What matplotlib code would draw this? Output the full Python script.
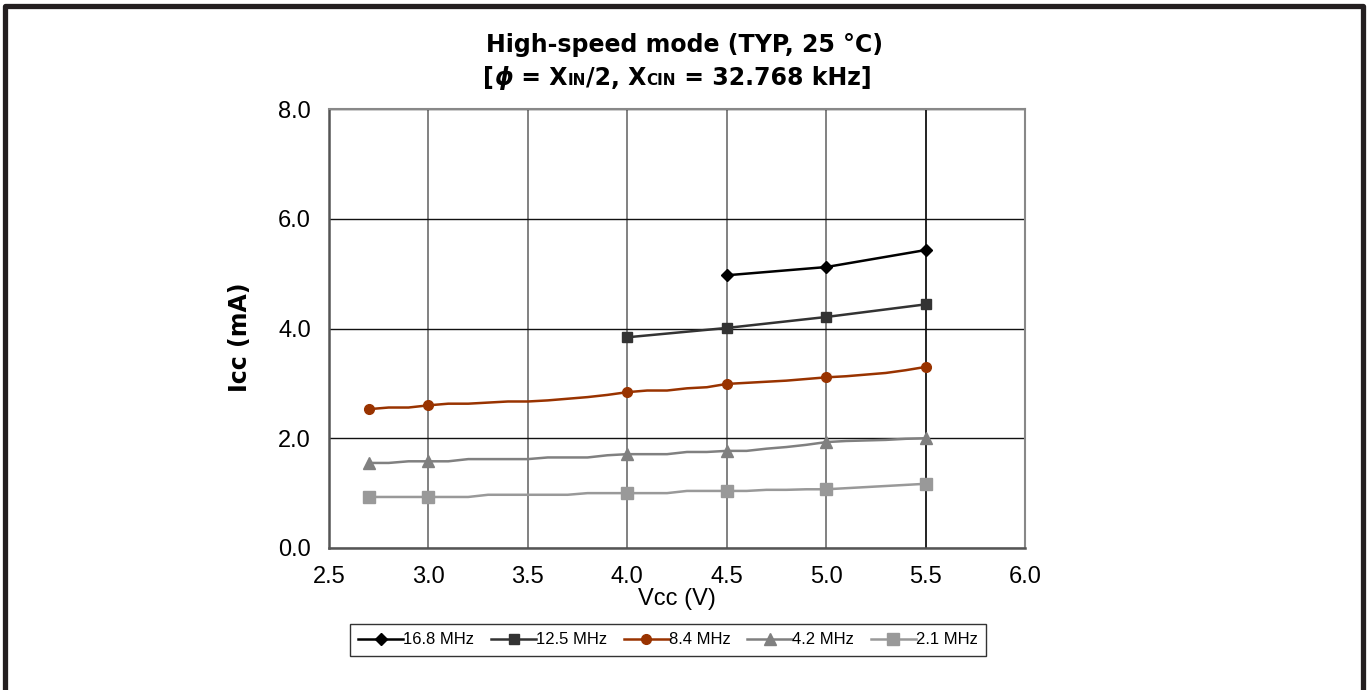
import matplotlib
matplotlib.use('agg')
import matplotlib.pyplot as plt
from matplotlib.lines import Line2D
from matplotlib.offsetbox import TextArea, HPacker, AnchoredOffsetbox

plt.rcParams['font.family'] = ['Liberation Sans', 'DejaVu Sans']

# measured points (V, mA)
vcc_168 = [4.5, 5.0, 5.5]
icc_168 = [4.97, 5.12, 5.43]

vcc_125 = [4.0, 4.5, 5.0, 5.5]
icc_125 = [3.84, 4.01, 4.21, 4.44]

vcc_fine = [2.7, 2.8, 2.9, 3.0, 3.1, 3.2, 3.3, 3.4, 3.5, 3.6,
            3.7, 3.8, 3.9, 4.0, 4.1, 4.2, 4.3, 4.4, 4.5, 4.6,
            4.7, 4.8, 4.9, 5.0, 5.1, 5.2, 5.3, 5.4, 5.5]
icc_84 = [2.53, 2.56, 2.56, 2.60, 2.63, 2.63, 2.65, 2.67, 2.67, 2.69,
          2.72, 2.75, 2.79, 2.84, 2.87, 2.87, 2.91, 2.93, 2.99, 3.01,
          3.03, 3.05, 3.08, 3.11, 3.13, 3.16, 3.19, 3.24, 3.30]
icc_42 = [1.55, 1.55, 1.58, 1.58, 1.58, 1.62, 1.62, 1.62, 1.62, 1.65,
          1.65, 1.65, 1.69, 1.71, 1.71, 1.71, 1.75, 1.75, 1.77, 1.77,
          1.81, 1.84, 1.88, 1.93, 1.95, 1.96, 1.97, 1.99, 2.00]
icc_21 = [0.93, 0.93, 0.93, 0.93, 0.93, 0.93, 0.97, 0.97, 0.97, 0.97,
          0.97, 1.00, 1.00, 1.00, 1.00, 1.00, 1.04, 1.04, 1.04, 1.04,
          1.06, 1.06, 1.07, 1.07, 1.09, 1.11, 1.13, 1.15, 1.17]
marker_idx = [0, 3, 13, 18, 23, 28]  # 2.7, 3.0, 4.0, 4.5, 5.0, 5.5 V

labels = ['16.8 MHz', '12.5 MHz', '8.4 MHz', '4.2 MHz', '2.1 MHz']
x_ticks = [2.5, 3.0, 3.5, 4.0, 4.5, 5.0, 5.5, 6.0]
y_ticks = [0.0, 2.0, 4.0, 6.0, 8.0]

fig = plt.figure(figsize=(13.68, 6.9), dpi=100)
ax = fig.add_axes([0.2405, 0.2058, 0.5088, 0.6362])

ax.plot(vcc_168, icc_168, color='black', lw=1.8, marker='D', ms=6.5, label=labels[0], zorder=5)
ax.plot(vcc_125, icc_125, color='#333333', lw=1.8, marker='s', ms=6.5, label=labels[1], zorder=5)
ax.plot(vcc_fine, icc_84, color='#993300', lw=1.8, marker='o', ms=7, markevery=marker_idx,
        label=labels[2], zorder=5)
ax.plot(vcc_fine, icc_42, color='#808080', lw=1.8, marker='^', ms=8.5, markevery=marker_idx,
        label=labels[3], zorder=5)
ax.plot(vcc_fine, icc_21, color='#999999', lw=1.8, marker='s', ms=8, markevery=marker_idx,
        label=labels[4], zorder=5)

ax.set_xlim(2.5, 6.0)
ax.set_ylim(0, 8)
ax.set_xticks(x_ticks)
ax.set_yticks(y_ticks)
ax.set_xticklabels([f'{v:.1f}' for v in x_ticks])
ax.set_yticklabels([f'{v:.1f}' for v in y_ticks])
ax.tick_params(axis='both', length=0, labelsize=17, pad=13)
ax.xaxis.grid(True, color='#777777', lw=1.3)
ax.yaxis.grid(True, color='#111111', lw=1.0)
ax.get_xgridlines()[6].set_color('#111111')
ax.set_axisbelow(True)

for side in ['left', 'bottom']:
    ax.spines[side].set_color('#555555')
    ax.spines[side].set_linewidth(1.8)
for side in ['top', 'right']:
    ax.spines[side].set_color('#888888')
    ax.spines[side].set_linewidth(1.5)

ax.set_xlabel('Vcc (V)', fontsize=17)
ax.xaxis.set_label_coords(0.5, -0.09)
ax.set_ylabel('Icc (mA)', fontsize=17, fontweight='bold', family=['DejaVu Sans'])
ax.yaxis.set_label_coords(-0.11, 0.48)

# title, two lines
fig.text(0.5, 1 - 45 / 690, 'High-speed mode (TYP, 25 °C)', ha='center', va='center',
         fontsize=17, fontweight='bold', family=['DejaVu Sans'])
big = dict(fontsize=17, fontweight='bold', color='black', family=['DejaVu Sans'])
small = dict(fontsize=11, fontweight='bold', color='black', family=['DejaVu Sans'])
phi = dict(fontsize=17, fontweight='bold', fontstyle='italic', color='black',
           family=['DejaVu Sans'])
parts = [TextArea('[', textprops=big), TextArea('ϕ', textprops=phi),
         TextArea(' = X', textprops=big), TextArea('IN', textprops=small),
         TextArea('/2, X', textprops=big), TextArea('CIN', textprops=small),
         TextArea(' = 32.768 kHz]', textprops=big)]
line2 = HPacker(children=parts, align='baseline', pad=0, sep=0)
box = AnchoredOffsetbox(loc='center', child=line2, pad=0, borderpad=0, frameon=False,
                        bbox_to_anchor=(0.495, 1 - 78 / 690), bbox_transform=fig.transFigure)
fig.add_artist(box)

leg = fig.legend(loc='center', bbox_to_anchor=(668 / 1368, 1 - 640 / 690), ncol=5,
                 fontsize=12, frameon=True, fancybox=False, edgecolor='black',
                 handlelength=2.7, handletextpad=0.0, columnspacing=1.0, borderpad=0.5)
leg.get_frame().set_linewidth(1.0)

# outer frame (top, left, right)
frame_kw = dict(color='#231f20', lw=3.8, transform=fig.transFigure)
fig.add_artist(Line2D([0.004, 0.004, 0.9967, 0.9967], [0.0, 0.992, 0.992, 0.0], **frame_kw))

plt.savefig('out.png', dpi=100)
